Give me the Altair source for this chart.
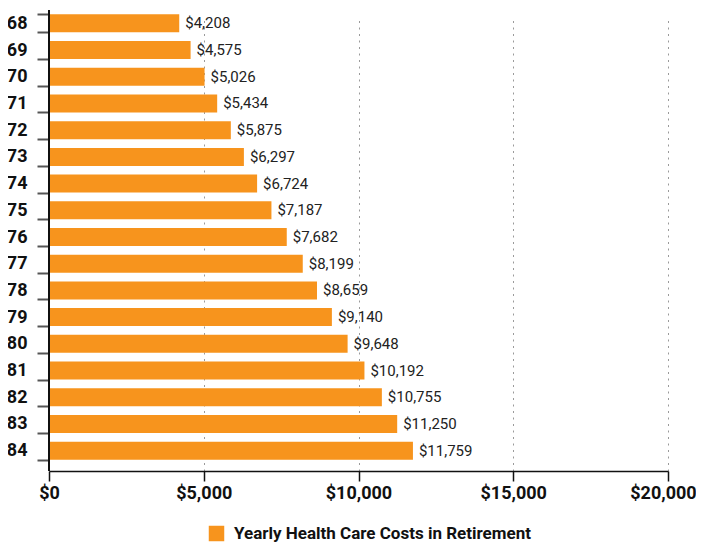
import altair as alt
import pandas as pd

ages = ["68", "69", "70", "71", "72", "73", "74", "75", "76", "77", "78", "79", "80", "81", "82", "83", "84"]
costs = [4208, 4575, 5026, 5434, 5875, 6297, 6724, 7187, 7682, 8199, 8659, 9140, 9648, 10192, 10755, 11250, 11759]
series_name = "Yearly Health Care Costs in Retirement"

df = pd.DataFrame({"age": ages, "cost": costs, "series": [series_name] * len(ages)})

ORANGE = "#F7941D"

x_enc = alt.X(
    "cost:Q",
    scale=alt.Scale(domain=[0, 20000], nice=False),
    axis=alt.Axis(
        values=[0, 5000, 10000, 15000, 20000],
        format="$,.0f",
        title=None,
        grid=True,
        gridColor="#9a9a9a",
        gridDash=[2, 4.5],
        gridWidth=1,
        domainColor="#111111",
        domainWidth=1.5,
        tickColor="#111111",
        tickWidth=1.5,
        tickSize=10,
        labelFont="Roboto",
        labelFontWeight="bold",
        labelFontSize=18,
        labelColor="#111111",
        labelPadding=3,
        labelFlush=False,
        labelOffset={"condition": {"test": "datum.value == 20000", "value": -5}, "value": 0},
    ),
)

y_enc = alt.Y(
    "age:N",
    sort=ages,
    scale=alt.Scale(range=[0, 454], paddingInner=0.326, paddingOuter=0.163),
    axis=alt.Axis(
        title=None,
        domain=False,
        tickBand="extent",
        tickColor="#555555",
        tickWidth=2,
        tickSize=12,
        labelFont="Roboto",
        labelFontWeight="bold",
        labelFontSize=18,
        labelColor="#111111",
        labelPadding=10,
    ),
)

bars = alt.Chart(df).mark_bar(color=ORANGE).encode(
    x=x_enc,
    y=y_enc,
    color=alt.Color(
        "series:N",
        scale=alt.Scale(range=[ORANGE]),
        legend=alt.Legend(
            title=None,
            orient="none",
            legendX=159,
            legendY=515,
            symbolType="square",
            symbolSize=240,
            symbolStrokeWidth=0,
            labelFont="Roboto",
            labelFontWeight="bold",
            labelFontSize=17,
            labelColor="#111111",
            labelOffset=9,
            labelLimit=0,
        ),
    ),
)

labels = alt.Chart(df).mark_text(
    align="left", baseline="middle", dx=6, font="Roboto", fontSize=15, color="#222222"
).encode(
    x="cost:Q",
    y=alt.Y("age:N", sort=ages),
    text=alt.Text("cost:Q", format="$,.0f"),
)

yline = alt.Chart(df).mark_rule(color="#111111", strokeWidth=1.5).encode(
    x=alt.datum(0)
)

chart = alt.layer(bars, labels, yline).properties(
    width=619,
    height=461,
    autosize=alt.AutoSizeParams(type="none"),
    padding={"left": 41, "top": 2, "right": 28, "bottom": 72},
).configure_view(stroke=None)

chart.save("out.html", embed_options={"renderer": "svg", "actions": False})
